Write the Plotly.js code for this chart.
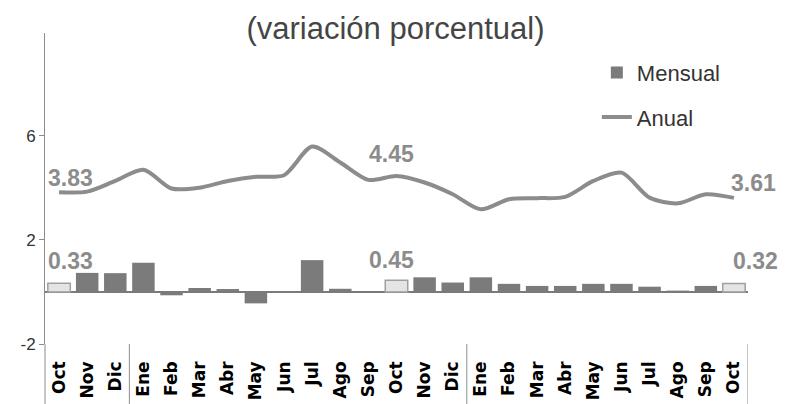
<!DOCTYPE html>
<html>
<head>
<meta charset="utf-8">
<script src="https://cdn.plot.ly/plotly-3.0.1.min.js"></script>
<style>html,body{margin:0;padding:0;background:#fff;}</style>
</head>
<body>
<div id="chart" style="width:791px;height:404px;"></div>
<script>
const months = ['Oct','Nov','Dic','Ene','Feb','Mar','Abr','May','Jun','Jul','Ago','Sep','Oct','Nov','Dic','Ene','Feb','Mar','Abr','May','Jun','Jul','Ago','Sep','Oct'];
const mensual = [0.33,0.73,0.72,1.12,-0.13,0.15,0.11,-0.44,0.03,1.22,0.12,0.01,0.45,0.56,0.36,0.56,0.31,0.23,0.23,0.31,0.31,0.20,0.05,0.23,0.32];
const anual = [3.83,3.85,4.26,4.69,3.97,4.00,4.26,4.42,4.48,5.58,4.97,4.30,4.45,4.20,3.75,3.17,3.56,3.60,3.65,4.26,4.58,3.62,3.40,3.75,3.61];
const labeledIdx = [0,12,24];
const yearBreaks = [2.5,14.5,24.5];
const yTicks = [-2,2,6];

const idx = months.map((m,i)=>i);
const dark = '#7b7b7b', light = '#e4e4e4', lineCol = '#8c8c8c', axisCol = '#8c8c8c';
const barW = 0.8;

const traces = [
  {type:'bar', name:'Mensual', x:idx, y:mensual, legendgroup:'m', width:barW,
   marker:{color:dark, line:{color:dark, width:0}}, hoverinfo:'skip'},
  {type:'bar', name:'Mensual', x:labeledIdx, y:labeledIdx.map(i=>mensual[i]), showlegend:false, width:barW,
   marker:{color:light, line:{color:'#a0a0a0', width:1.5}}, hoverinfo:'skip'},
  {type:'scatter', mode:'lines', name:'Anual', x:idx, y:anual, legendgroup:'a',
   line:{color:lineCol, width:4, shape:'spline', smoothing:0.8}, hoverinfo:'skip'}
];

const lineShift = {0:[11,14], 12:[-5,22], 24:[20,15]};
const barShift = {0:[11,22], 12:[-5,20], 24:[22,23]};
const annFont = {family:'Liberation Sans, Arial, sans-serif', size:23, color:'#8c8c8c', weight:'bold'};
const annotations = [];
labeledIdx.forEach(i=>{
  annotations.push({x:i, y:anual[i], xref:'x', yref:'y', text:anual[i].toFixed(2), showarrow:false,
    xanchor:'center', yanchor:'middle', xshift:lineShift[i][0], yshift:lineShift[i][1], font:annFont});
  annotations.push({x:i, y:mensual[i], xref:'x', yref:'y', text:mensual[i].toFixed(2), showarrow:false,
    xanchor:'center', yanchor:'middle', xshift:barShift[i][0], yshift:barShift[i][1], font:annFont});
});

const shapes = [{type:'line', xref:'paper', yref:'paper', x0:0, x1:0, y0:-0.2, y1:0, line:{color:axisCol, width:1}}];
yearBreaks.forEach(b=>shapes.push({type:'line', xref:'x', yref:'paper', x0:b, x1:b, y0:-0.2, y1:0, line:{color:axisCol, width:1}}));

const layout = {
  width:791, height:404,
  margin:{l:45, r:43, t:33, b:60},
  paper_bgcolor:'#fff', plot_bgcolor:'#fff',
  title:{text:'(variación porcentual)', x:0.5, xref:'container', y:0.93, yref:'container', yanchor:'middle',
    font:{family:'Liberation Sans, Arial, sans-serif', size:31, color:'#454545'}},
  barmode:'overlay',
  xaxis:{range:[-0.5,24.5], tickvals:idx, ticktext:months, tickangle:-90, showgrid:false, zeroline:false,
    showline:false, ticks:'', ticklabelstandoff:13,
    tickfont:{family:'DejaVu Sans, sans-serif', size:17, color:'#000', weight:'bold'}, fixedrange:true},
  yaxis:{range:[-2,9.94], tickvals:yTicks, ticktext:yTicks.map(String), showgrid:false, zeroline:true,
    zerolinecolor:'#7a7a7a', zerolinewidth:1.5, showline:true, linecolor:axisCol, linewidth:1,
    ticks:'outside', ticklen:5, tickcolor:axisCol,
    tickfont:{family:'Liberation Sans, Arial, sans-serif', size:17, color:'#333'}, fixedrange:true},
  legend:{x:0.785, y:0.94, xanchor:'left', yanchor:'top', traceorder:'grouped', tracegroupgap:13,
    font:{family:'Liberation Sans, Arial, sans-serif', size:22, color:'#333'}, bgcolor:'rgba(0,0,0,0)', itemwidth:30},
  annotations:annotations,
  shapes:shapes
};
Plotly.newPlot('chart', traces, layout, {displayModeBar:false, staticPlot:true});
</script>
</body>
</html>
